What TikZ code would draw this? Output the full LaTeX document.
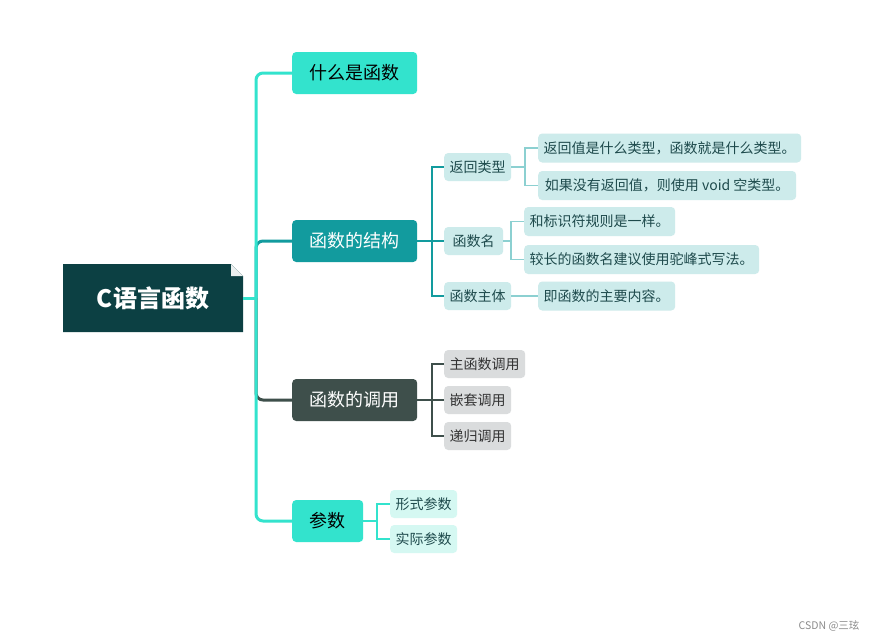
\documentclass[tikz,border=0pt]{standalone}
\usepackage{fontspec}
\setmainfont{Noto Sans CJK SC}
\begin{document}
\begin{tikzpicture}[x=1pt,y=-1pt,
  turqc/.style={draw=turq,line width=3pt},
  basebox/.style={rounded corners=4pt,inner sep=0pt,anchor=west,minimum height=42pt},
  lvlone/.style={basebox,font=\fontsize{18}{20}\selectfont},
  lvltwo/.style={rounded corners=4pt,inner sep=0pt,anchor=west,minimum height=28pt,font=\fontsize{14}{16}\selectfont},
  lvlthree/.style={lvltwo,minimum height=29pt}]
\definecolor{turq}{HTML}{33E3CD}
\definecolor{tealc}{HTML}{129B9E}
\definecolor{rootc}{HTML}{0C4043}
\definecolor{grayb}{HTML}{3E4F4B}
\definecolor{lcyan}{HTML}{CDEBEB}
\definecolor{lgray}{HTML}{DADCDD}
\definecolor{mint}{HTML}{D5F8F2}
\definecolor{lline}{HTML}{8CD0D1}
\definecolor{txtteal}{HTML}{1E4A4C}
\useasboundingbox (0,0) rectangle (878,641);
\fill[white] (0,0) rectangle (878,641);
% root
\fill[rootc] (63,264) -- (231,264) -- (243,276) -- (243,332) -- (63,332) -- cycle;
\fill[white!92!rootc] (231,264) -- (243,276) -- (231,276) -- cycle;
\node[text=white,font=\fontsize{24}{27}\selectfont\bfseries] (root) at (153,298) {C语言函数};
\coordinate (rootr) at (243,298);
\coordinate (trunk) at (256,298);
% level 1
\node[lvlone,fill=turq,minimum width=125pt] (b1) at (292,73) {什么是函数};
\node[lvlone,fill=tealc,text=white,minimum width=125pt] (b2) at (292,241) {函数的结构};
\node[lvlone,fill=grayb,text=white,minimum width=125pt] (b3) at (292,400) {函数的调用};
\node[lvlone,fill=turq,minimum width=71pt] (b4) at (292,521) {参数};
% trunk connectors
\draw[draw=tealc,line width=3pt,rounded corners=7pt] (trunk) |- (b2.west);
\draw[draw=grayb,line width=3pt,rounded corners=7pt] (trunk) |- (b3.west);
\draw[turqc,rounded corners=7pt] (trunk) |- (b1.west);
\draw[turqc,rounded corners=7pt] (trunk) |- (b4.west);
\draw[turqc] (rootr) -- (trunk);
% level 2 under b2
\node[lvltwo,fill=lcyan,text=txtteal,minimum width=67pt] (s1) at (444,167) {返回类型};
\node[lvltwo,fill=lcyan,text=txtteal,minimum width=59pt] (s2) at (444,241) {函数名};
\node[lvltwo,fill=lcyan,text=txtteal,minimum width=67pt] (s3) at (444,296) {函数主体};
\coordinate (j2) at (432,241);
\draw[tealc,line width=2pt] (b2.east) -- (j2);
\draw[tealc,line width=2pt] (j2) |- (s1.west);
\draw[tealc,line width=2pt] (j2) |- (s3.west);
\draw[tealc,line width=2pt] (j2) -- (s2.west);
% level 3
\node[lvlthree,fill=lcyan,text=txtteal,minimum width=263pt] (t1) at (538,148) {返回值是什么类型，函数就是什么类型。};
\node[lvlthree,fill=lcyan,text=txtteal,minimum width=258pt] (t2) at (538,185.5) {如果没有返回值，则使用 void 空类型。};
\node[lvlthree,fill=lcyan,text=txtteal,minimum width=151pt] (t3) at (524,221.5) {和标识符规则是一样。};
\node[lvlthree,fill=lcyan,text=txtteal,minimum width=235pt] (t4) at (524,259.5) {较长的函数名建议使用驼峰式写法。};
\node[lvlthree,fill=lcyan,text=txtteal,minimum width=137pt] (t5) at (538,296) {即函数的主要内容。};
\coordinate (k1) at (525,167);
\coordinate (k2) at (511,241);
\draw[lline,line width=1.8pt] (s1.east) -- (k1);
\draw[lline,line width=1.8pt] (k1) |- (t1.west);
\draw[lline,line width=1.8pt] (k1) |- (t2.west);
\draw[lline,line width=1.8pt] (s2.east) -- (k2);
\draw[lline,line width=1.8pt] (k2) |- (t3.west);
\draw[lline,line width=1.8pt] (k2) |- (t4.west);
\draw[lline,line width=1.8pt] (s3.east) -- (t5.west);
% level 2 under b3
\node[lvltwo,fill=lgray,text=black!80,minimum width=81pt] (u1) at (444,364) {主函数调用};
\node[lvltwo,fill=lgray,text=black!80,minimum width=67pt] (u2) at (444,400) {嵌套调用};
\node[lvltwo,fill=lgray,text=black!80,minimum width=67pt] (u3) at (444,436) {递归调用};
\coordinate (j3) at (432,400);
\draw[grayb,line width=2pt] (b3.east) -- (j3);
\draw[grayb,line width=2pt] (j3) |- (u1.west);
\draw[grayb,line width=2pt] (j3) |- (u3.west);
\draw[grayb,line width=2pt] (j3) -- (u2.west);
% level 2 under b4
\node[lvltwo,fill=mint,text=txtteal,minimum width=67pt] (v1) at (390,504) {形式参数};
\node[lvltwo,fill=mint,text=txtteal,minimum width=67pt] (v2) at (390,539) {实际参数};
\coordinate (j4) at (377,521);
\draw[turq,line width=2pt] (b4.east) -- (j4);
\draw[turq,line width=2pt] (j4) |- (v1.west);
\draw[turq,line width=2pt] (j4) |- (v2.west);
% watermark
\node[anchor=east,text=black!45,font=\fontsize{10.5}{12}\selectfont] (wm) at (863,626) {CSDN @三玹};
\end{tikzpicture}
\end{document}
